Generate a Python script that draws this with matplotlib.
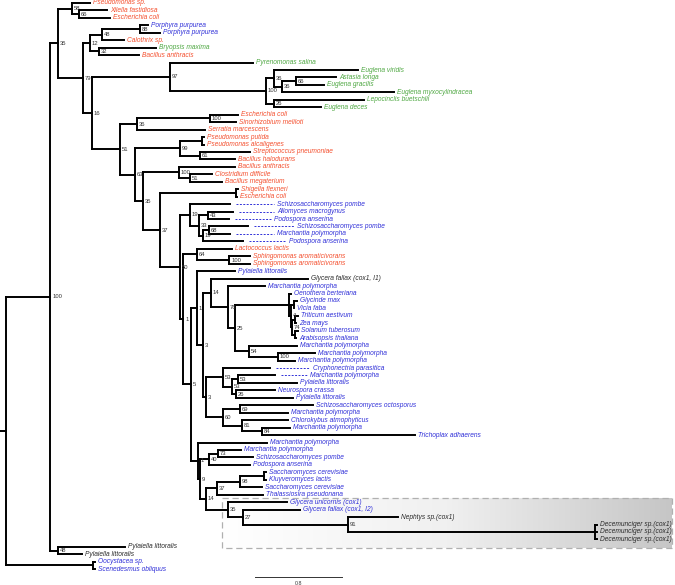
import numpy as np
import matplotlib.pyplot as plt
from matplotlib.patches import Rectangle
from matplotlib.colors import LinearSegmentedColormap

plt.rcParams['font.family'] = ['Liberation Sans', 'DejaVu Sans']

# leaves, top to bottom
leaf_names = [
    "Pseudomonas sp.", "Xilella fastidiosa", "Escherichia coli", "Porphyra purpurea",
    "Porphyra purpurea", "Calothrix sp.", "Bryopsis maxima", "Bacillus anthracis",
    "Pyrenomonas salina", "Euglena viridis", "Astasia longa", "Euglena gracilis",
    "Euglena myxocylindracea", "Lepocinclis buetschlii", "Euglena deces", "Escherichia coli",
    "Sinorhizobium meliloti", "Serratia marcescens", "Pseudomonas putida", "Pseudomonas alcaligenes",
    "Streptococcus pneumoniae", "Bacillus halodurans", "Bacillus anthracis", "Clostridium difficile",
    "Bacillus megaterium", "Shigella flexneri", "Escherichia coli", "Schizosaccharomyces pombe",
    "Allomyces macrogynus", "Podospora anserina", "Schizosaccharomyces pombe", "Marchantia polymorpha",
    "Podospora anserina", "Lactococcus lactis", "Sphingomonas aromaticivorans", "Sphingomonas aromaticivorans",
    "Pylaiella littoralis", "Glycera fallax (cox1, I1)", "Marchantia polymorpha", "Oenothera berteriana",
    "Glycinde max", "Vicia faba", "Triticum aestivum", "Zea mays",
    "Solanum tuberosum", "Arabisopsis thaliana", "Marchantia polymorpha", "Marchantia polymorpha",
    "Marchantia polymorpha", "Cryphonectria parasitica", "Marchantia polymorpha", "Pylaiella littoralis",
    "Neurospora crassa", "Pylaiella littoralis", "Schizosaccharomyces octosporus", "Marchantia polymorpha",
    "Chlorokybus atmophyticus", "Marchantia polymorpha", "Trichoplax adhaerens", "Marchantia polymorpha",
    "Marchantia polymorpha", "Schizosaccharomyces pombe", "Podospora anserina", "Saccharomyces cerevisiae",
    "Kluyveromyces lactis", "Saccharomyces cerevisiae", "Thalassiosira pseudonana", "Glycera unicornis (cox1)",
    "Glycera fallax (cox1, I2)", "Nephtys sp.(cox1)", "Decemunciger sp.(cox1)", "Decemunciger sp.(cox1)",
    "Decemunciger sp.(cox1)", "Pylaiella littoralis", "Pylaiella littoralis", "Oocystacea sp.",
    "Scenedesmus obliquus",
]
# r = bacteria, b = mitochondria, g = plastids, k = annelid
leaf_groups = list("rrrbbrgrggggggg" "rrrrrrrrrrrr" "bbbbbb" "rrr" "bk"
                   "bbbbbbbbbbbbbbbbbbbbbbbbbbbbbbb" "kkkkkk" "bbgg")
leaf_parents = [
    "N58", "N66a", "N66a", "N88", "N88", "N48", "N32", "N32",
    "N97", "N36a", "N66b", "N66b", "N36b", "N26a", "N26a", "N100c",
    "N100c", "N36c", "Npp", "Npp", "N61", "N61", "N100d", "N51b",
    "N51b", "Nsh", "Nsh", "N19a", "N43", "N43", "N68", "N68",
    "N19b", "N64", "N100s", "N100s", "N1b", "N14b", "N76", "Gc",
    "G3", "G3", "G5", "G5", "G6", "G6", "N54", "N100m",
    "N100m", "N53a", "N53c", "N53c", "N26b", "N26b", "N69", "N69",
    "N81", "N84", "N84", "Nx", "N73", "N73", "N40", "Nsk",
    "Nsk", "N98", "N37b", "N35g", "N27", "N91", "Ndec", "Ndec",
    "Ndec", "P48", "P48", "OS", "OS",
]
leaf_depths = [
    0.772, 0.929, 0.956, 1.306, 1.416, 1.085, 1.379, 1.223,
    2.271, 3.237, 3.034, 2.924, 3.568, 3.292, 2.897, 2.133,
    2.115, 1.830, 1.821, 1.821, 2.244, 2.106, 2.106, 1.894,
    1.986, 2.133, 2.124, 2.060, 2.087, 2.050, 2.225, 2.060,
    2.179, 2.078, 2.244, 2.244, 2.106, 2.777, 2.382, 2.621,
    2.676, 2.648, 2.685, 2.667, 2.685, 2.667, 2.676, 2.841,
    2.657, 2.428, 2.474, 2.676, 2.474, 2.639, 2.823, 2.593,
    2.593, 2.611, 3.761, 2.400, 2.161, 2.271, 2.244, 2.391,
    2.391, 2.354, 2.363, 2.584, 2.703, 3.605, 5.434, 5.434,
    5.434, 1.094, 0.699, 0.818, 0.818,
]
# dashed leader lines (tree units) for aligned labels
leader_rows = [27, 28, 29, 30, 31, 32, 49, 50]
leader_lens = [0.40, 0.38, 0.39, 0.42, 0.40, 0.40, 0.37, 0.29]

# internal nodes
node_names = [
    "root", "A100", "OS", "P48", "N35", "N58", "N66a", "N79", "N12", "N48", "N88", "N32",
    "N16", "N97", "N100e", "N36a", "N36b", "N66b", "N26a", "N51", "N36c", "N100c", "N63",
    "N99", "Npp", "N61", "N35b", "N100d", "N51b", "N37", "Nsh", "N50", "N19a", "N33",
    "N43", "N19b", "N68", "N1", "N64", "N100s", "N5", "N1b", "N3a", "N14b", "N76", "N25",
    "Gc", "G2", "G3", "G4", "G5", "G6", "N54", "N100m", "N3b", "N53a", "N53b", "N53c",
    "N26b", "N60", "N69", "N81", "N84", "Nx", "N9", "N40", "N73", "N14c", "N37b", "N98",
    "Nsk", "N35g", "N27", "N91", "Ndec",
]
node_parents = [
    None, "root", "root", "A100", "A100", "N35", "N58", "N35", "N79", "N12", "N48", "N12",
    "N79", "N16", "N97", "N100e", "N36a", "N36b", "N100e", "N16", "N51", "N36c", "N51",
    "N63", "N99", "N99", "N63", "N35b", "N100d", "N35b", "N37", "N37", "N50", "N19a",
    "N33", "N33", "N19b", "N50", "N1", "N64", "N1", "N5", "N1b", "N3a", "N14b", "N76",
    "N25", "Gc", "G2", "G2", "G4", "G4", "N25", "N54", "N3a", "N3b", "N53a", "N53b",
    "N53b", "N3b", "N60", "N60", "N81", "N5", "Nx", "N9", "N40", "N9", "N14c", "N37b",
    "N98", "N14c", "N35g", "N27", "N91",
]
node_depths = [
    0.000, 0.405, 0.800, 0.478, 0.478, 0.607, 0.671, 0.708, 0.772, 0.883, 1.232, 0.855,
    0.791, 1.508, 2.391, 2.464, 2.538, 2.667, 2.464, 1.048, 1.205, 1.876, 1.186,
    1.600, 1.802, 1.784, 1.260, 1.591, 1.692, 1.416, 2.115, 1.600, 1.692, 1.775,
    1.857, 1.811, 1.867, 1.628, 1.756, 2.051, 1.701, 1.756, 1.811, 1.885, 2.041, 2.106,
    2.602, 2.621, 2.648, 2.630, 2.657, 2.657, 2.234, 2.501, 1.839, 1.995, 2.078, 2.133,
    2.115, 1.995, 2.152, 2.170, 2.354, 1.766, 1.784, 1.867, 1.949, 1.839, 1.940, 2.152,
    2.372, 2.041, 2.179, 3.145, 5.416,
]
node_support = [
    "", "100", "", "48", "35", "58", "66", "79", "12", "48", "88", "32",
    "16", "97", "100", "36", "36", "66", "26", "51", "36", "100", "63",
    "99", "", "61", "35", "100", "51", "37", "", "50", "19", "33",
    "43", "19", "68", "1", "64", "100", "5", "1", "3", "14", "76", "25",
    "", "4", "", "74", "", "", "54", "100", "3", "53", "53", "53",
    "26", "60", "69", "81", "84", "1", "9", "40", "73", "14", "37", "98",
    "", "35", "27", "91", "",
]
scale_len = 0.8

group_colors = {"r": "#f4502f", "b": "#3030d8", "g": "#4fa843", "k": "#2a2a2a"}
px = 108.75  # pixels per tree unit in the output
gap = 3 / px

# layout: leaf rows, internal node y = middle of its children
depth = dict(zip(node_names, node_depths))
parent = dict(zip(node_names, node_parents))
children = {n: [] for n in node_names}
for n, p in zip(node_names, node_parents):
    if p is not None:
        children[p].append(("node", n))
for row, p in enumerate(leaf_parents):
    children[p].append(("leaf", row))

ypos = {}


def node_y(n):
    if n in ypos:
        return ypos[n]
    ys = [c if kind == "leaf" else node_y(c) for kind, c in children[n]]
    ypos[n] = (min(ys) + max(ys)) / 2
    return ypos[n]


for n in node_names:
    node_y(n)

fig = plt.figure(figsize=(6.75, 5.85), dpi=100)
ax = fig.add_axes([0, 0, 1, 1])
ax.set_xlim(-6 / px, 669 / px)
ax.set_ylim(78.12, -0.40)
ax.axis("off")

lw = 1.4
# grey highlighted annelid box
x0, x1 = (222 - 6) / px, (672 - 6) / px
y0, y1 = 66.45, 73.15
grad = np.linspace(0, 1, 256).reshape(1, -1)
cmap = LinearSegmentedColormap.from_list("g", ["#ffffff", "#f0f0f0", "#c6c6c6"])
ax.imshow(grad, extent=[x0, x1, y1, y0], cmap=cmap, aspect="auto", zorder=0)
ax.add_patch(Rectangle((x0, y0), x1 - x0, y1 - y0, fill=False, edgecolor="#b0b0b0",
                       linestyle=(0, (5, 3)), lw=0.9, zorder=1))

# branches
for n in node_names:
    ys = [c if kind == "leaf" else ypos[c] for kind, c in children[n]]
    ax.plot([depth[n], depth[n]], [min(ys), max(ys)], color="black", lw=lw,
            solid_capstyle="projecting", zorder=2)
    p = parent[n]
    if p is not None:
        ax.plot([depth[p], depth[n]], [ypos[n], ypos[n]], color="black", lw=lw, zorder=2)
    else:
        ax.plot([-6 / px, depth[n]], [ypos[n], ypos[n]], color="black", lw=lw, zorder=2)

for row, (name, grp, p, d) in enumerate(zip(leaf_names, leaf_groups, leaf_parents, leaf_depths)):
    ax.plot([depth[p], d], [row, row], color="black", lw=lw, zorder=2)
    lx = d + gap
    if row in leader_rows:
        ln = leader_lens[leader_rows.index(row)]
        ax.plot([d + 6 / px, d + ln], [row, row], color=group_colors[grp], lw=0.7,
                linestyle=(0, (2, 1.5)), zorder=2)
        lx = d + ln + gap
    ax.text(lx, row, name, color=group_colors[grp], fontsize=4.8, style="italic",
            ha="left", va="center", zorder=3)

# support values
for n, s in zip(node_names, node_support):
    if s:
        ax.text(depth[n] + 2 / px, ypos[n], s, fontsize=4.2, color="#333333",
                ha="left", va="center", zorder=3)

# scale bar
sb_x = (255 - 6) / px
ax.plot([sb_x, sb_x + scale_len], [77.05, 77.05], color="#333333", lw=0.7)
ax.text(sb_x + scale_len / 2, 77.95, f"{scale_len}", fontsize=3.8, color="#333333",
        ha="center", va="center")

fig.savefig("out.png", dpi=100)
